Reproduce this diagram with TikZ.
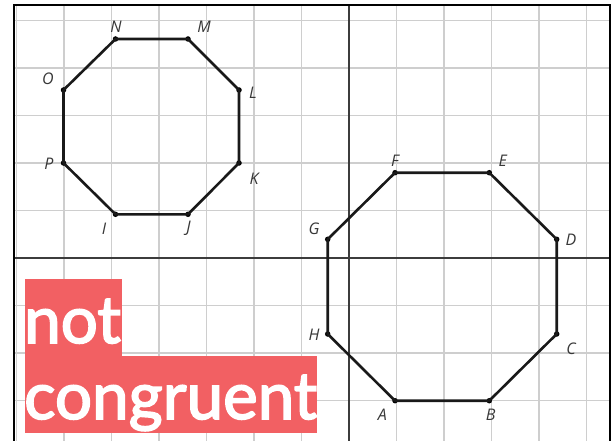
\documentclass[tikz,border=0pt]{standalone}
\usepackage{fontspec}
\newfontfamily\labfont{Open Sans}
\newfontfamily\bigfont[FakeBold=2.5]{Lato}
\definecolor{gridc}{RGB}{206,206,206}
\definecolor{axisc}{RGB}{60,60,60}
\definecolor{labc}{RGB}{55,55,55}
\definecolor{hl}{RGB}{242,96,99}
\begin{document}
\begin{tikzpicture}[x=1pt,y=-1pt,
  gridline/.style={gridc, line width=1.4pt},
  axisline/.style={axisc, line width=1.8pt},
  edge/.style={black!90, line width=2.6pt, line join=round},
  vtx/.style={circle, fill=black, inner sep=0pt, minimum size=5.5pt},
  lab/.style={text=labc, font=\labfont\itshape\fontsize{16}{16}\selectfont, inner sep=0pt},
  big/.style={anchor=base west, inner sep=0pt, text=white, font=\bigfont\fontsize{65.5}{76}\selectfont}]
\useasboundingbox (0,0) rectangle (615,441);
\fill[white] (0,0) rectangle (615,441);
% grid
\foreach \k in {-7,...,5} {\draw[gridline] ({349+47.5*\k},5) -- ({349+47.5*\k},441);}
\foreach \k in {-5,...,4} {\draw[gridline] (14,{258+47.5*\k}) -- (610,{258+47.5*\k});}
% axes
\draw[axisline] (349,5) -- (349,441);
\draw[axisline] (14,258) -- (610,258);
% frame
\draw[black, line width=2.4pt] (14,441) -- (14,5) -- (610,5) -- (610,441);
% octagon 1
\node[vtx] (N) at (115.5,39) {};
\node[vtx] (M) at (188,39) {};
\node[vtx] (L) at (239,90) {};
\node[vtx] (K) at (239,163) {};
\node[vtx] (J) at (188,214.3) {};
\node[vtx] (I) at (115.5,214.3) {};
\node[vtx] (P) at (63.5,163) {};
\node[vtx] (O) at (63.5,90) {};
\draw[edge] (N.center) -- (M.center) -- (L.center) -- (K.center) -- (J.center) -- (I.center) -- (P.center) -- (O.center) -- cycle;
% octagon 2
\node[vtx] (F) at (395,172.7) {};
\node[vtx] (E) at (489.3,172.7) {};
\node[vtx] (D) at (556.7,239.3) {};
\node[vtx] (C) at (556.7,334) {};
\node[vtx] (B) at (489.3,400.7) {};
\node[vtx] (A) at (395,400.7) {};
\node[vtx] (H) at (327.7,334) {};
\node[vtx] (G) at (327.7,239.3) {};
\draw[edge] (A.center) -- (B.center) -- (C.center) -- (D.center) -- (E.center) -- (F.center) -- (G.center) -- (H.center) -- cycle;
% labels
\node[lab] (lN) at (116,27) {N};
\node[lab] (lM) at (204,27) {M};
\node[lab] (lL) at (253,93) {L};
\node[lab] (lK) at (254,179) {K};
\node[lab] (lJ) at (188.5,228.5) {J};
\node[lab] (lI) at (104,228.5) {I};
\node[lab] (lP) at (49,164) {P};
\node[lab] (lO) at (48,79) {O};
\node[lab] (lF) at (395,160.7) {F};
\node[lab] (lE) at (502.7,160.7) {E};
\node[lab] (lD) at (571,240) {D};
\node[lab] (lC) at (571,349) {C};
\node[lab] (lB) at (490.7,415) {B};
\node[lab] (lA) at (382.3,415) {A};
\node[lab] (lH) at (314,335) {H};
\node[lab] (lG) at (314,228.3) {G};
% not congruent
\fill[hl] (25,279) rectangle (122,356);
\fill[hl] (25,356) rectangle (317,433);
\node[big] (t1) at (24,343) {not};
\node[big] (t2) at (24,419) {congruent};
\end{tikzpicture}
\end{document}
